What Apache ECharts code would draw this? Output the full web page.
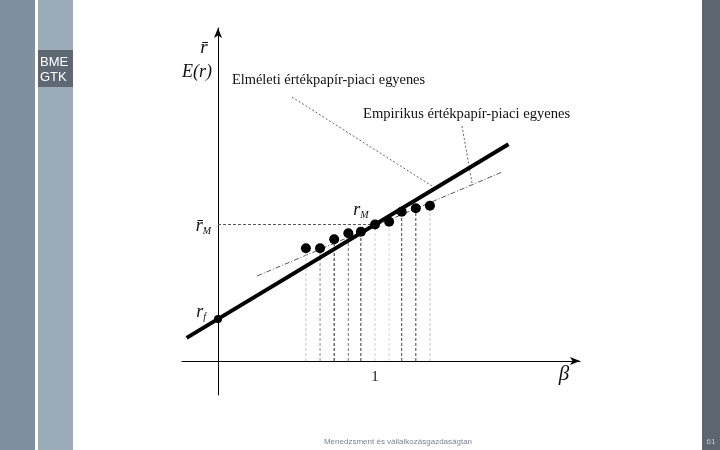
<!DOCTYPE html>
<html>
<head>
<meta charset="utf-8">
<script src="https://cdn.jsdelivr.net/npm/echarts@6/dist/echarts.min.js"></script>
<style>
  html, body { margin: 0; padding: 0; background: #fff; }
  #chart { width: 720px; height: 450px; }
</style>
</head>
<body>
<div id="chart"></div>
<script>
// béta értékek és várható hozamok (tetszőleges egységben, rf = 4, rM = 13)
var betas = [0.56, 0.65, 0.74, 0.83, 0.91, 1.0, 1.09, 1.17, 1.26, 1.35]
var returns = [10.73, 10.73, 11.59, 12.16, 12.31, 13.0, 13.27, 14.22, 14.54, 14.79]
var dropColors = ['#c4c4c4', '#8a8a8a', '#222222', '#777777', '#333333', '#cfcfcf', '#d6d6d6', '#444444', '#444444', '#c4c4c4']
var riskFree = 4
var marketReturn = 13
// elméleti SML: E(r) = rf + beta * (rM - rf)
var smlLine = [[-0.2, 2.2], [1.85, 20.65]]
var empLine = [[0.25, 8.1], [1.81, 18.0]]
var leaderTheory = [[0.471, 25.14], [1.363, 16.67]]
var leaderEmp = [[1.554, 22.38], [1.618, 16.95]]
var xTicks = [1]
var yTicks = [marketReturn]

var chartDom = document.getElementById('chart')
var myChart = echarts.init(chartDom)
var option

var serif = '"Liberation Serif", "DejaVu Serif", serif'
var richSub = {
  r: { fontFamily: serif, fontStyle: 'italic', fontSize: 18, color: '#111' },
  s: { fontFamily: serif, fontStyle: 'italic', fontSize: 10, color: '#111', padding: [10, 0, 0, 0] }
}

var series = [
  {
    name: 'empirikus',
    type: 'line',
    data: empLine,
    symbol: 'none',
    silent: true,
    lineStyle: { color: '#555', width: 1, type: [5, 2, 1, 2] }
  },
  {
    name: 'leader1',
    type: 'line',
    data: leaderTheory,
    symbol: 'none',
    silent: true,
    lineStyle: { color: '#666', width: 1, type: [2, 2] }
  },
  {
    name: 'leader2',
    type: 'line',
    data: leaderEmp,
    symbol: 'none',
    silent: true,
    lineStyle: { color: '#666', width: 1, type: [2, 2] }
  },
  {
    name: 'rM',
    type: 'line',
    data: [[0, marketReturn], [1, marketReturn]],
    symbol: 'none',
    silent: true,
    lineStyle: { color: '#555', width: 1, type: [3, 2] }
  }
]

// függőleges vetítővonalak a pontoktól az x tengelyig
betas.forEach(function (b, i) {
  series.push({
    type: 'line',
    data: [[b, 0], [b, returns[i]]],
    symbol: 'none',
    silent: true,
    lineStyle: { color: dropColors[i], width: 1, type: [3, 2] }
  })
})

series.push({
  name: 'SML',
  type: 'line',
  data: smlLine,
  symbol: 'none',
  silent: true,
  z: 4,
  lineStyle: { color: '#000', width: 4 }
})

series.push({
  name: 'pontok',
  type: 'scatter',
  symbolSize: 10,
  z: 5,
  itemStyle: { color: '#000', opacity: 1 },
  silent: true,
  data: betas.map(function (b, i) {
    var item = { value: [b, returns[i]] }
    if (b === 1) {
      item.label = {
        show: true,
        position: 'top',
        offset: [-14, 6],
        formatter: '{r|r}{s|M}',
        rich: richSub
      }
    }
    return item
  })
})

series.push({
  name: 'rf',
  type: 'scatter',
  symbolSize: 8,
  z: 6,
  itemStyle: { color: '#000', opacity: 1 },
  silent: true,
  data: [{
    value: [0, riskFree],
    label: {
      show: true,
      position: 'left',
      offset: [-3, -7],
      formatter: '{r|r}{s|f}',
      rich: richSub
    }
  }]
})

option = {
  animation: false,
  backgroundColor: '#fff',
  grid: {
    left: 182,
    right: 140,
    top: 28,
    bottom: 55
  },
  xAxis: {
    type: 'value',
    min: -0.2293,
    max: 2.3057,
    splitLine: { show: false },
    axisTick: { show: false },
    axisLine: {
      onZero: true,
      symbol: ['none', 'arrow'],
      symbolSize: [6, 10],
      lineStyle: { color: '#000', width: 1 }
    },
    axisLabel: {
      customValues: xTicks,
      margin: -25,
      fontFamily: serif,
      fontSize: 15,
      color: '#222'
    }
  },
  yAxis: {
    type: 'value',
    min: -3.238,
    max: 31.714,
    splitLine: { show: false },
    axisTick: { show: false },
    axisLine: {
      onZero: true,
      symbol: ['none', 'arrow'],
      symbolSize: [6, 10],
      lineStyle: { color: '#000', width: 1 }
    },
    axisLabel: {
      customValues: yTicks,
      margin: -29,
      formatter: function (v) {
        return '{r|r\u0304}{s|M}'
      },
      padding: [4, 0, 0, 0],
      rich: richSub
    }
  },
  graphic: [
    // oldalsávok
    { type: 'rect', shape: { x: 0, y: 0, width: 35, height: 450 }, style: { fill: '#7f91a1' }, z: -1 },
    { type: 'rect', shape: { x: 38, y: 0, width: 35, height: 450 }, style: { fill: '#9cabb8' }, z: -1 },
    { type: 'rect', shape: { x: 38, y: 50, width: 35, height: 37 }, style: { fill: '#5d6873' }, z: 0 },
    { type: 'text', x: 40, y: 55, style: { text: 'BME\nGTK', fill: '#fff', font: '13px "Liberation Sans", Arial, sans-serif', lineHeight: 15 } },
    { type: 'rect', shape: { x: 702, y: 0, width: 18, height: 450 }, style: { fill: '#5c6670' }, z: -1 },
    { type: 'text', x: 711, y: 442, style: { text: '61', fill: '#c5cbd1', font: '8px "Liberation Sans", Arial, sans-serif', align: 'center', verticalAlign: 'middle' } },
    { type: 'text', x: 398, y: 442, style: { text: 'Menedzsment és vállalkozásgazdaságtan', fill: '#7a8590', font: '8px "Liberation Sans", Arial, sans-serif', align: 'center', verticalAlign: 'middle' } },
    // tengelyfeliratok
    { type: 'text', x: 204, y: 48, style: { text: 'r\u0304', fill: '#111', font: 'italic 19px ' + serif, align: 'center', verticalAlign: 'middle' } },
    { type: 'text', x: 197, y: 72, style: { text: 'E(r)', fill: '#111', font: 'italic 18px ' + serif, align: 'center', verticalAlign: 'middle' } },
    { type: 'text', x: 564, y: 374, style: { text: 'β', fill: '#111', font: 'italic 21px ' + serif, align: 'center', verticalAlign: 'middle' } },
    // magyarázó feliratok
    { type: 'text', x: 232, y: 80, style: { text: 'Elméleti értékpapír-piaci egyenes', fill: '#111', font: '14.4px ' + serif, verticalAlign: 'middle' } },
    { type: 'text', x: 363, y: 114, style: { text: 'Empirikus értékpapír-piaci egyenes', fill: '#111', font: '14.6px ' + serif, verticalAlign: 'middle' } }
  ],
  series: series
}

option && myChart.setOption(option)

window.addEventListener('resize', function () {
  myChart.resize()
})
</script>
</body>
</html>
